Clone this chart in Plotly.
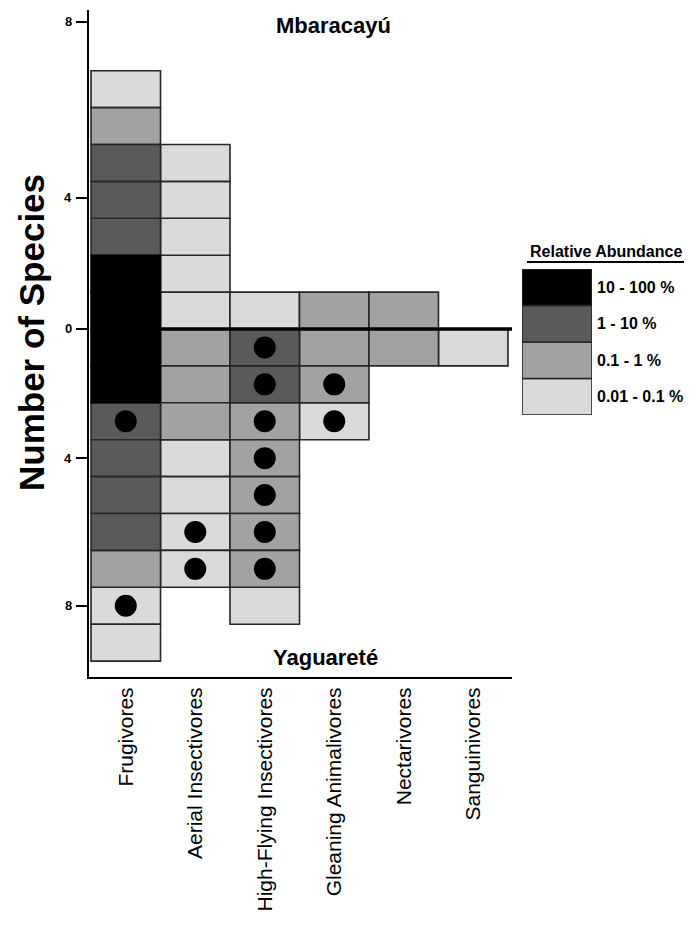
import plotly.graph_objects as go

# ---------------- data ----------------
categories = ["Frugivores", "Aerial Insectivores", "High-Flying Insectivores",
              "Gleaning Animalivores", "Nectarivores", "Sanguinivores"]

# abundance classes: 3 = 10-100 %, 2 = 1-10 %, 1 = 0.1-1 %, 0 = 0.01-0.1 %
class_labels = ["0.01 - 0.1 %", "0.1 - 1 %", "1 - 10 %", "10 - 100 %"]
class_colors = ["#dadada", "#a2a2a2", "#5a5a5a", "#000000"]
class_edges = ["#262626", "#262626", "#262626", "#000000"]

# Mbaracayú species (stacked upward from zero)
mbaracayu = [
    [3, 3, 2, 2, 2, 1, 0],
    [0, 0, 0, 0, 0],
    [0],
    [1],
    [1],
    [],
]
# Yaguareté species (stacked downward from zero)
yaguarete = [
    [3, 3, 2, 2, 2, 2, 1, 0, 0],
    [1, 1, 1, 0, 0, 0, 0],
    [2, 2, 1, 1, 1, 1, 1, 0],
    [1, 1, 0],
    [1],
    [0],
]
# filled dots marking Yaguareté species
yaguarete_dots = [
    [0, 0, 1, 0, 0, 0, 0, 1, 0],
    [0, 0, 0, 0, 0, 1, 1],
    [1, 1, 1, 1, 1, 1, 1, 0],
    [0, 1, 1],
    [0],
    [0],
]

y_tick_vals = [8.32, 3.55, 0, -3.5, -7.5]
y_tick_text = ["8", "4", "0", "4", "8"]

# ---------------- figure ----------------
W, H = 696, 940
FONT = "Liberation Sans, Arial, Helvetica, sans-serif"

fig = go.Figure()

for c in range(4):
    xs, bases, ys = [], [], []
    for i, cat in enumerate(categories):
        for k, cl in enumerate(mbaracayu[i]):
            if cl == c:
                xs.append(cat); bases.append(k); ys.append(1)
        for k, cl in enumerate(yaguarete[i]):
            if cl == c:
                xs.append(cat); bases.append(-(k + 1)); ys.append(1)
    fig.add_trace(go.Bar(
        x=xs, y=ys, base=bases, width=1,
        marker=dict(color=class_colors[c], line=dict(color=class_edges[c], width=1.6)),
        xaxis="x", yaxis="y", showlegend=False, hoverinfo="skip"))

dx, dy = [], []
for i, cat in enumerate(categories):
    for k, d in enumerate(yaguarete_dots[i]):
        if d:
            dx.append(cat); dy.append(-(k + 0.5))
fig.add_trace(go.Scatter(x=dx, y=dy, mode="markers",
                         marker=dict(size=22, color="black"),
                         xaxis="x", yaxis="y", showlegend=False, hoverinfo="skip"))

# legend swatches on their own small axes
fig.add_trace(go.Bar(
    x=[0.5] * 4, y=[1] * 4, base=list(range(4)), width=1,
    marker=dict(color=class_colors, line=dict(color="#262626", width=1.6)),
    xaxis="x2", yaxis="y2", showlegend=False, hoverinfo="skip"))

# thick zero line
fig.add_shape(type="line", xref="x", yref="y", x0=0.5, x1=5.57, y0=0, y1=0,
              line=dict(color="black", width=3.5), layer="above")

fig.update_layout(
    width=W, height=H,
    margin=dict(l=0, r=0, t=0, b=0),
    paper_bgcolor="white", plot_bgcolor="white",
    barmode="overlay", showlegend=False,
    font=dict(family=FONT, color="black"),
    xaxis=dict(
        type="category", categoryorder="array", categoryarray=categories,
        domain=[89 / W, 512 / W], range=[-0.529, 5.558],
        showline=True, linewidth=2, linecolor="black",
        ticks="", tickangle=-90, tickfont=dict(size=21, family=FONT),
        showgrid=False, zeroline=False, anchor="y", automargin=False),
    yaxis=dict(
        domain=[1 - 677 / H, 1 - 10 / H], range=[-9.431, 8.645],
        tickmode="array", tickvals=y_tick_vals, ticktext=y_tick_text,
        ticks="outside", ticklen=11, tickwidth=1.5, tickcolor="black",
        showticklabels=False,
        showline=True, linewidth=2, linecolor="black",
        showgrid=False, zeroline=False, anchor="x", automargin=False),
    xaxis2=dict(domain=[522 / W, 592 / W], range=[0, 1], anchor="y2",
                showline=False, showgrid=False, zeroline=False,
                showticklabels=False, ticks=""),
    yaxis2=dict(domain=[1 - 415 / H, 1 - 269 / H], range=[0, 4], anchor="x2",
                side="right", tickmode="array",
                tickvals=[0.5, 1.5, 2.5, 3.5], ticktext=class_labels,
                ticks="", ticklabelstandoff=4,
                tickfont=dict(size=16, family=FONT, weight="bold"),
                showline=False, showgrid=False, zeroline=False, automargin=False),
)

# y tick labels placed on the y axis scale
for v, t in zip(y_tick_vals, y_tick_text):
    fig.add_annotation(text="<b>%s</b>" % t, xref="paper", yref="y",
                       x=74 / W, y=v, showarrow=False,
                       font=dict(size=13, family=FONT),
                       xanchor="right", yanchor="middle")

fig.add_annotation(text="<b>Number of Species</b>", textangle=-90,
                   xref="paper", yref="paper", x=31 / W, y=1 - 333 / H,
                   showarrow=False, font=dict(size=35, family=FONT),
                   xanchor="center", yanchor="middle")
fig.add_annotation(text="<b>Mbaracayú</b>", xref="paper", yref="paper",
                   x=333 / W, y=1 - 26 / H, showarrow=False,
                   font=dict(size=22, family=FONT), xanchor="center", yanchor="middle")
fig.add_annotation(text="<b>Yaguareté</b>", xref="paper", yref="paper",
                   x=325 / W, y=1 - 657 / H, showarrow=False,
                   font=dict(size=22, family=FONT), xanchor="center", yanchor="middle")
fig.add_annotation(text="<b>Relative Abundance</b>", xref="paper", yref="paper",
                   x=606 / W, y=1 - 251 / H, showarrow=False,
                   font=dict(size=16, family=FONT), xanchor="center", yanchor="middle")
fig.add_shape(type="line", xref="paper", yref="paper",
              x0=527 / W, x1=684 / W, y0=1 - 262 / H, y1=1 - 262 / H,
              line=dict(color="black", width=2))

fig.write_html("out.html")
